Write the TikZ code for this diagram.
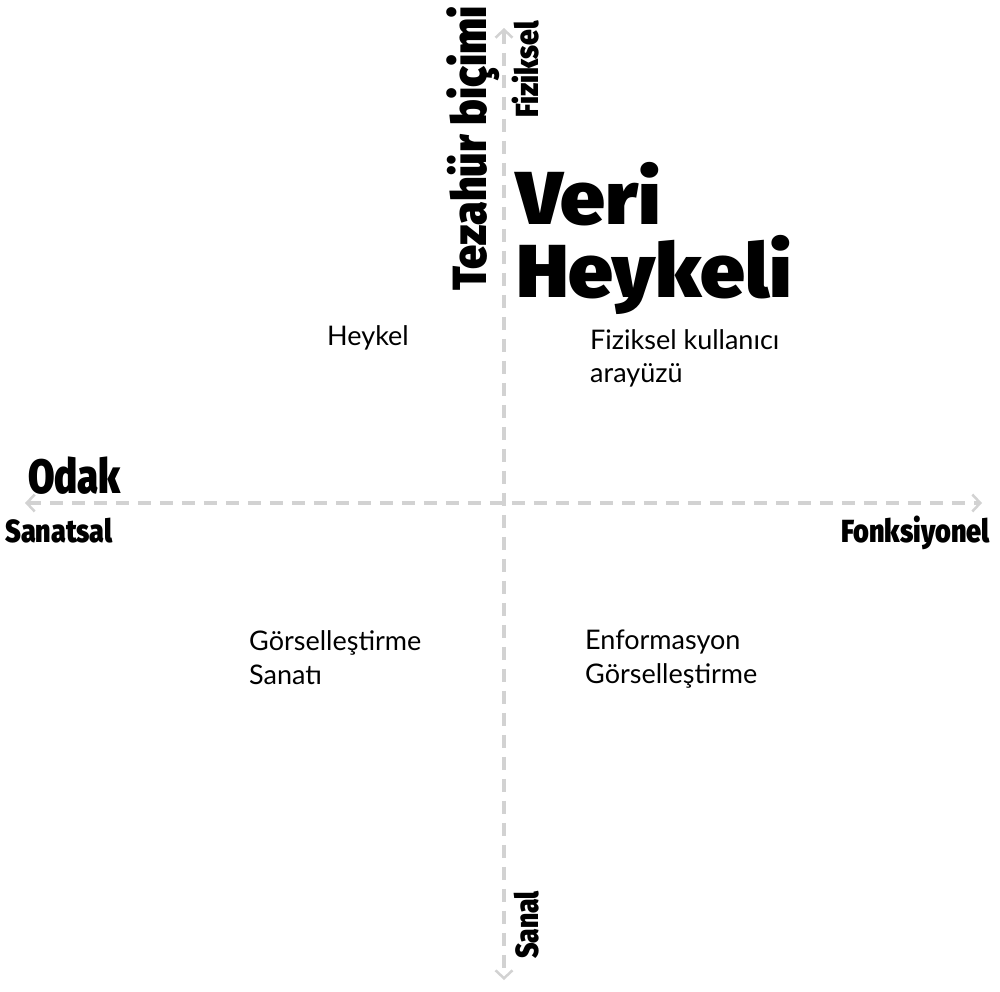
\documentclass[tikz,border=0pt]{standalone}
\usepackage{fontspec}
\setmainfont{Lato}
\newfontfamily\heavy{Fira Sans}[UprightFont=* Black]
\usetikzlibrary{arrows.meta}
\definecolor{axisgray}{HTML}{D2D2D2}
\begin{document}
\begin{tikzpicture}[x=1pt,y=-1pt,
  tip/.tip={Straight Barb[length=8pt,width=17pt,line width=2.5pt]},
  axis/.style={draw=axisgray, line width=3.5pt, dash pattern=on 13pt off 9pt, tip-tip},
  lbl/.style={inner sep=0pt, font=\fontsize{27}{34}\selectfont, anchor=base west},
  big/.style={inner sep=0pt, font=\heavy\fontsize{75}{75}\selectfont, anchor=base west},
  ax/.style={inner sep=0pt, font=\heavy\fontsize{32}{32}\selectfont}]
\useasboundingbox (0,0) rectangle (1000,991);
\coordinate (top) at (504,28);
\coordinate (bot) at (504,980);
\coordinate (lft) at (25,503);
\coordinate (rgt) at (982,503);
\draw[axis] (top) -- (bot);
\draw[axis] (lft) -- (rgt);
\node[ax, rotate=90, anchor=base, font=\heavy\fontsize{48}{48}\selectfont] (tez) at (486,148.5) {\scalebox{0.9}[1]{Tezahür biçimi}};
\node[ax, rotate=90, anchor=base] (fiz) at (538,69.5) {\scalebox{0.88}[1]{Fiziksel}};
\node[ax, rotate=90, anchor=base] (san) at (538,925) {\scalebox{0.825}[1]{Sanal}};
\node[ax, font=\heavy\fontsize{48}{48}\selectfont, anchor=base west] (odak) at (28,493) {\scalebox{0.8}[1]{Odak}};
\node[ax, anchor=base west] (sanat) at (5,542) {\scalebox{0.84}[1]{Sanatsal}};
\node[ax, anchor=base east] (fonk) at (990,542) {\scalebox{0.845}[1]{Fonksiyonel}};
\node[big] (veri) at (516,224) {\scalebox{1.07}[1]{Veri}};
\node[big] (heyk) at (516,297) {\scalebox{1.07}[1]{Heykeli}};
\node[lbl] (heykel) at (327,345) {Heykel};
\node[lbl] (fku1) at (590,349) {Fiziksel kullanıcı};
\node[lbl] (fku2) at (590,382) {arayüzü};
\node[lbl] (gs1) at (249,650) {Görselleştirme};
\node[lbl] (gs2) at (249,684) {Sanatı};
\node[lbl] (eg1) at (585,649) {Enformasyon};
\node[lbl] (eg2) at (585,683) {Görselleştirme};
\end{tikzpicture}
\end{document}
